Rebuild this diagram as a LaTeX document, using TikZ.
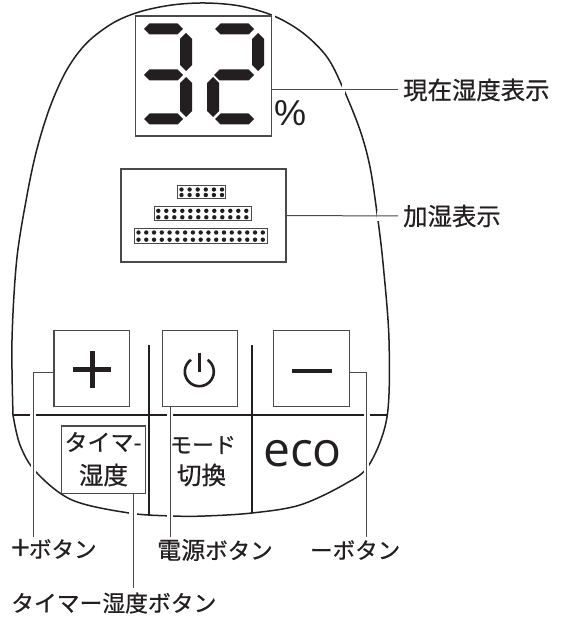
\documentclass[tikz,border=0pt]{standalone}
\usepackage{fontspec}
\setmainfont{Liberation Sans}
\newfontfamily\jp[FakeBold=0.6]{Noto Sans CJK JP}
\newfontfamily\jplight{Noto Sans CJK JP}
\newfontfamily\ecofont{Open Sans}
\definecolor{ink}{HTML}{231F20}
\definecolor{wire}{HTML}{4A4A4A}
\newcommand{\hseg}[3]{\fill[ink] (#1,#3) -- (#1+5.5,#3-5.5) -- (#2-5.5,#3-5.5) -- (#2,#3) -- (#2-5.5,#3+5.5) -- (#1+5.5,#3+5.5) -- cycle;}
\newcommand{\vseg}[3]{\fill[ink] (#1+6,#2) -- (#1+12,#2+6) -- (#1+12,#3-6) -- (#1+6,#3) -- (#1,#3-6) -- (#1,#2+6) -- cycle;}
\newcommand{\dotbar}[8]{%
  \fill[white] (#1,#3) rectangle (#2,#4);
  \draw[wire,line width=1pt] (#1,#3) rectangle (#2,#4);
  \foreach \yy in {#8}{\foreach \ii in {1,...,#7}{\fill[ink] ({#5+(\ii-1)*#6},\yy) circle (2.2);}}}
\tikzset{
  outline/.style={ink,line width=1.5pt},
  panel/.style={draw=wire,line width=1.1pt,rectangle,inner sep=0pt,fill=white},
  divider/.style={ink,line width=1.8pt},
  leader/.style={wire,line width=1pt},
  gapmark/.style={white,line width=3pt},
  lab/.style={inner sep=0pt,anchor=west,text=ink,font=\jp\fontsize{24.4}{24}\selectfont},
  keytext/.style={inner sep=0pt,text=ink,font=\jp\fontsize{23}{23}\selectfont},
  glyph/.style={ink,line width=5pt}
}
\begin{document}
\begin{tikzpicture}[x=1pt,y=-1pt]
\useasboundingbox (0,0) rectangle (561,617);
% body outline
\draw[outline] plot[smooth,tension=.55] coordinates {(13,415)(12,340)(16.7,260)(26.7,197)(36.7,150)(50,107)(66.7,70)(86.7,43)(113,23)(140,11.7)(172,5)(205,3)(240,6)(274,16)(303,33)(327,57)(343,88)(360,130)(370,167)(377,213)(383,263)(389,340)(387,417)(369,465)(345,484)(300,505)(252,513)(205,516)(173,516)(129,513)(72,500)(36,472)(20,445)(13,415)};
% dividers
\draw[divider] (13,415) -- (387,415);
\draw[divider] (149.3,345) -- (149.3,515);
\draw[divider] (251.7,345) -- (251.7,513);
% gaps at leader crossings
\draw[gapmark,line width=6pt] (33,411) -- (33,419);
\draw[gapmark,line width=6pt] (170,411) -- (170,419);
\draw[gapmark,line width=6pt] (366.5,411) -- (366.5,419);
\draw[gapmark,line width=5pt] (33,464) -- (33,473);
\draw[gapmark,line width=5pt] (366.5,463) -- (366.5,473);
\draw[gapmark,line width=8pt] (133,510) -- (133,518);
\draw[gapmark,line width=6pt] (170,512) -- (170,520);
\draw[gapmark] (343,84) -- (343,95);
\draw[gapmark] (378,211) -- (378,221);
\draw[gapmark] (273,12) -- (273,19);
% display
\node[panel,minimum width=136pt,minimum height=120pt] (display) at (203.7,76) {};
\hseg{144}{183}{29}
\hseg{144}{183}{75}
\hseg{144}{183}{119}
\vseg{180}{33}{71}
\vseg{180}{77}{117}
\hseg{215}{254}{29}
\hseg{214}{254}{75}
\hseg{215}{254}{119}
\vseg{252}{33}{71}
\vseg{207}{77}{117}
\node[inner sep=0pt,anchor=center,text=ink,font=\fontsize{36}{36}\selectfont] (pct) at (290,113.5) {\%};
% humidify indicator
\node[panel,minimum width=165pt,minimum height=93pt] (humid) at (203.5,215.5) {};
\dotbar{177}{225}{186}{199}{181.5}{8.1}{6}{189.5,195}
\dotbar{154}{251}{207}{221}{158.3}{8}{12}{210.8,217.3}
\dotbar{134.5}{267}{229}{243}{138.5}{7.77}{17}{232.5,239.7}
% buttons
\node[panel,minimum width=75.5pt,minimum height=75.5pt] (plusbox) at (91.7,368.5) {};
\node[panel,minimum width=75.5pt,minimum height=75.5pt] (powerbox) at (199.8,368.5) {};
\node[panel,minimum width=76pt,minimum height=75.5pt] (minusbox) at (311.3,368.5) {};
\node[panel,fill=none,minimum width=83.5pt,minimum height=67.5pt] (timerbox) at (103.5,459.7) {};
% glyphs
\draw[glyph] (73,369) -- (111,369);
\draw[glyph] (92.3,350.7) -- (92.3,388);
\draw[ink,line width=2.6pt] (199.3,352.7) -- (199.3,371.7);
\draw[ink,line width=2.6pt] (199.3,371.7) ++(-55:14.5) arc[start angle=-55,end angle=235,radius=14.5];
\draw[glyph,line width=4pt] (292,370.7) -- (332,370.7);
% key texts
\node[keytext] (timer1) at (103,442) {タイマ-};
\node[keytext,font=\jp\fontsize{24.5}{24.5}\selectfont] (timer2) at (103.5,475) {湿度};
\node[keytext,font=\jp\fontsize{22}{22}\selectfont] (mode1) at (203,445) {モード};
\node[keytext,font=\jp\fontsize{24.5}{24.5}\selectfont] (mode2) at (201.5,475) {切換};
\node[inner sep=0pt,text=ink,font=\ecofont\fontsize{48}{48}\selectfont] (eco) at (302.5,454) {eco};
% labels
\node[lab] (lnow) at (403,90) {現在湿度表示};
\node[lab] (lhum) at (403,216) {加湿表示};
\node[lab,font=\jp\fontsize{22.5}{24}\selectfont] (lplus) at (11,550) {\raisebox{-3pt}{\jplight\fontsize{34}{24}\selectfont +}\hspace{-1pt}ボタン};
\node[lab,font=\jp\fontsize{24}{24}\selectfont] (lpower) at (157,550) {電源{\fontsize{22.5}{24}\selectfont ボタン}};
\node[lab,font=\jp\fontsize{22.5}{24}\selectfont] (lminus) at (310,550) {ーボタン};
\node[lab,font=\jp\fontsize{22.8}{24}\selectfont] (ltimer) at (11,603) {タイマー湿度ボタン};
% leaders
\coordinate (nowy) at (272,90);
\draw[leader] (nowy) -- ([xshift=-5pt]lnow.west|-nowy);
\draw[leader] (humid.east) -- ([xshift=-5pt]lhum.west);
\coordinate (pluselbow) at (33,372);
\coordinate (plusend) at (33,537);
\draw[leader] (plusbox.west|-pluselbow) -- (pluselbow) -- (plusend);
\coordinate (powertop) at (170,406.2);
\coordinate (powerend) at (170,537);
\draw[leader] (powertop) -- (powerend);
\coordinate (minuselbow) at (366.5,372);
\coordinate (minusend) at (366.5,537);
\draw[leader] (minusbox.east|-minuselbow) -- (minuselbow) -- (minusend);
\coordinate (timerfoot) at (133,493.5);
\coordinate (timerend) at (133,588);
\draw[leader] (timerfoot) -- (timerend);
\end{tikzpicture}
\end{document}
